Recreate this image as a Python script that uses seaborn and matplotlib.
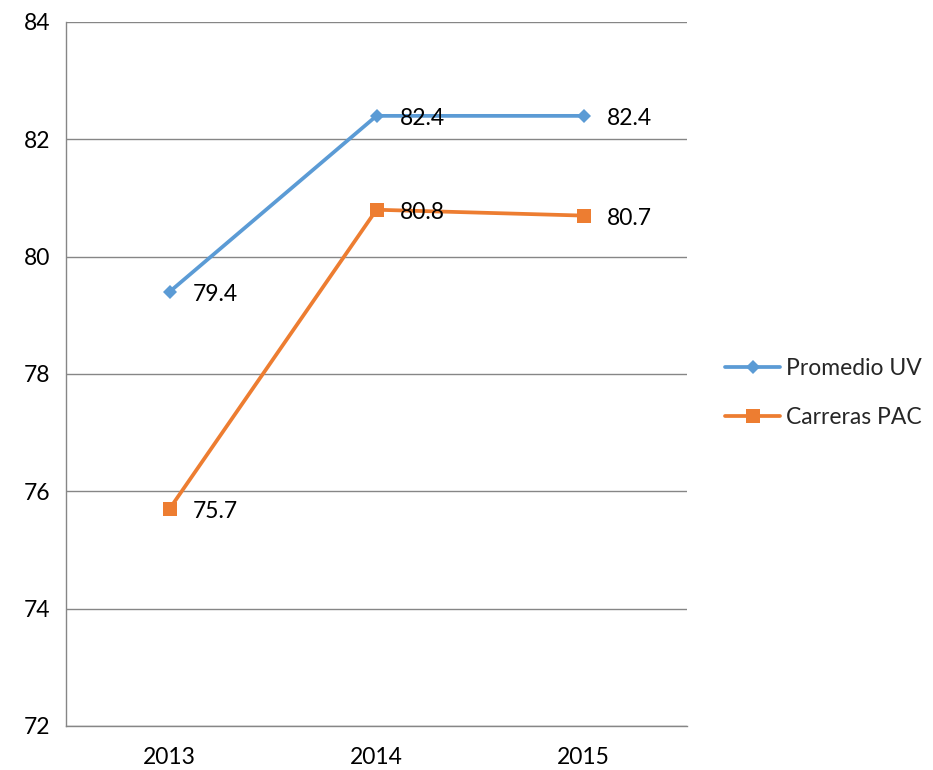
import matplotlib
matplotlib.use("Agg")
import matplotlib.pyplot as plt
import seaborn as sns
import pandas as pd
from matplotlib.ticker import FixedLocator

years = ["2013", "2014", "2015"]
promedio_uv = [79.4, 82.4, 82.4]
carreras_pac = [75.7, 80.8, 80.7]
series_names = ["Promedio UV", "Carreras PAC"]
y_ticks = [72, 74, 76, 78, 80, 82, 84]

sns.set_style("white")
plt.rcParams["font.family"] = ["Lato", "DejaVu Sans"]
FS = 16.5

df = pd.DataFrame({
    "year": years * 2,
    "value": promedio_uv + carreras_pac,
    "series": [series_names[0]] * 3 + [series_names[1]] * 3,
})

fig = plt.figure(figsize=(9.33, 7.7), dpi=100)
ax = fig.add_axes([66/933, 44/770, (687-66)/933, (726-22)/770])

colors = {"Promedio UV": "#5B9BD5", "Carreras PAC": "#ED7D31"}
sns.lineplot(data=df, x="year", y="value", hue="series", style="series",
             markers={"Promedio UV": "D", "Carreras PAC": "s"}, dashes=False,
             palette=colors, linewidth=2.7, markersize=8, markeredgewidth=0,
             sort=False, ax=ax)
for line in ax.lines:
    if line.get_marker() == "D":
        line.set_markersize(7.5)
    elif line.get_marker() == "s":
        line.set_markersize(10)

for vals in (promedio_uv, carreras_pac):
    for i, v in enumerate(vals):
        ax.annotate(f"{v:.1f}", (i, v), xytext=(17, -2), textcoords="offset points",
                    ha="left", va="center", fontsize=FS, color="#000000")

ax.set_xlim(-0.5, 2.5)
ax.set_ylim(72, 84)
ax.set_yticks(y_ticks)
ax.set_yticklabels([str(t) for t in y_ticks])
ax.grid(axis="y", color="#868686", linewidth=1)
ax.grid(axis="x", visible=False)
ax.set_axisbelow(True)
ax.xaxis.set_minor_locator(FixedLocator([-0.5, 0.5, 1.5, 2.5]))
ax.tick_params(axis="x", which="major", length=0, labelsize=FS, pad=15, colors="#000000")
ax.tick_params(axis="x", which="minor", length=7, width=1, color="#868686", direction="out")
ax.tick_params(axis="y", which="major", length=7, width=1, color="#868686", labelsize=FS, pad=4, labelcolor="#000000")
for s in ["top", "right"]:
    ax.spines[s].set_visible(False)
for s in ["left", "bottom"]:
    ax.spines[s].set_color("#868686")
    ax.spines[s].set_linewidth(1)
ax.set_xlabel("")
ax.set_ylabel("")

handles, labels = ax.get_legend_handles_labels()
ax.get_legend().remove()
fig.legend(handles, labels, loc="center left", bbox_to_anchor=(725/933, 1 - 393/770),
           frameon=False, fontsize=FS, handlelength=2.4, handletextpad=0.25,
           labelspacing=1.25, borderaxespad=0, borderpad=0)

fig.savefig("out.png", dpi=100)
